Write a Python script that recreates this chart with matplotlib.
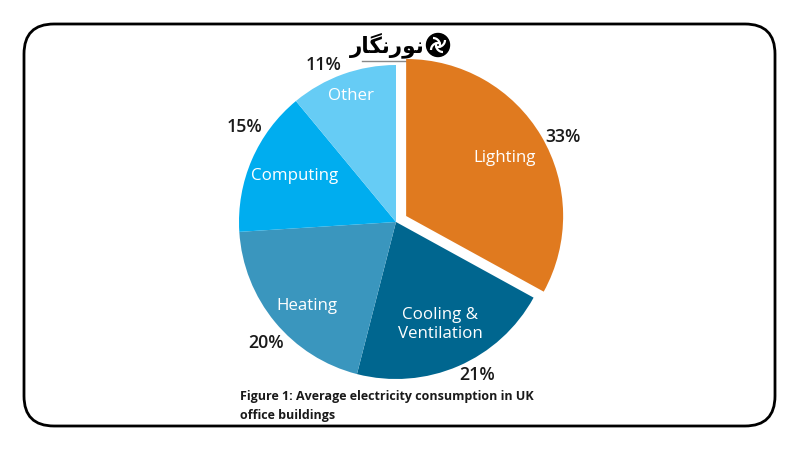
import numpy as np
import matplotlib
matplotlib.use("Agg")
import matplotlib.pyplot as plt
from matplotlib.patches import FancyBboxPatch, Circle, Arc

categories = ["Lighting", "Cooling &\nVentilation", "Heating", "Computing", "Other"]
shares = [33, 21, 20, 15, 11]
pct_labels = ["33%", "21%", "20%", "15%", "11%"]
colors = ["#E07A1F", "#00668F", "#3A96BE", "#00ADEF", "#66CCF5"]
explode = [0.075, 0, 0, 0, 0]
caption = "Figure 1: Average electricity consumption in UK\noffice buildings"
logo_text = "\uFEAD\uFE8E\uFB95\uFEE7\uFEAD\uFEEE\uFEE7"  # نورنگار (visual order, presentation forms)

# label placement (radius fraction, angle offset in degrees) — layout only
name_pos = [(0.73, 0), (0.71, 0), (0.78, 4), (0.71, -1), (0.85, 0)]
pct_pos = [(1.12, -4), (1.10, 4.5), (1.13, 3.5), (1.14, -8.5), (1.10, 5)]

fig = plt.figure(figsize=(8, 4.5), dpi=100)
fig.patch.set_facecolor("white")

# rounded border
bg = fig.add_axes([0, 0, 1, 1])
bg.set_xlim(0, 800)
bg.set_ylim(450, 0)
bg.axis("off")
bg.add_patch(FancyBboxPatch((24 + 30, 24 + 30), 751 - 60, 402 - 60,
                            boxstyle="round,pad=30", fill=False, lw=2.0, ec="black"))

# pie axes: center (396, 222) px, radius 157 px
half = 200
ax = fig.add_axes([(396 - half) / 800, (450 - 222 - half) / 450, 2 * half / 800, 2 * half / 450])
wedges, _ = ax.pie(shares, colors=colors, explode=explode, startangle=90, counterclock=False,
                   radius=1.0, wedgeprops=dict(linewidth=0))
lim = half / 157
ax.set_xlim(-lim, lim)
ax.set_ylim(-lim, lim)
ax.set_aspect("equal")
ax.axis("off")

font = "Open Sans"
for w, name, pct, ex, (nf, na), (pf, pa) in zip(wedges, categories, pct_labels, explode, name_pos, pct_pos):
    mid = np.deg2rad((w.theta1 + w.theta2) / 2)
    cx, cy = w.center
    a = mid + np.deg2rad(na)
    ax.text(cx + nf * np.cos(a), cy + nf * np.sin(a), name, color="white", ha="center", va="center",
            fontsize=12.2, family=font, linespacing=1.3)
    a = mid + np.deg2rad(pa)
    ax.text(cx + pf * np.cos(a), cy + pf * np.sin(a), pct, color="#1a1a1a", ha="center", va="center",
            fontsize=12.8, family=font, fontweight="semibold")

# caption
bg.text(240, 406, caption, ha="left", va="center", fontsize=9.0, family=font, fontweight="bold",
        color="#1a1a1a", linespacing=1.55)

# logo
bg.text(425, 45, logo_text, ha="right", va="center", fontsize=15.5, family="DejaVu Sans",
        fontweight="bold", color="black")
bg.add_patch(Circle((438, 45), 11.5, color="black"))
for ang in range(0, 360, 90):
    t = np.deg2rad(ang)
    bg.add_patch(Arc((438 + 5 * np.cos(t), 45 + 5 * np.sin(t)), 14, 14, angle=ang,
                     theta1=90, theta2=200, color="white", lw=1.6))
bg.plot([362, 421], [61, 61], color="#888888", lw=1.0)

fig.savefig("out.png", dpi=100, facecolor="white")
